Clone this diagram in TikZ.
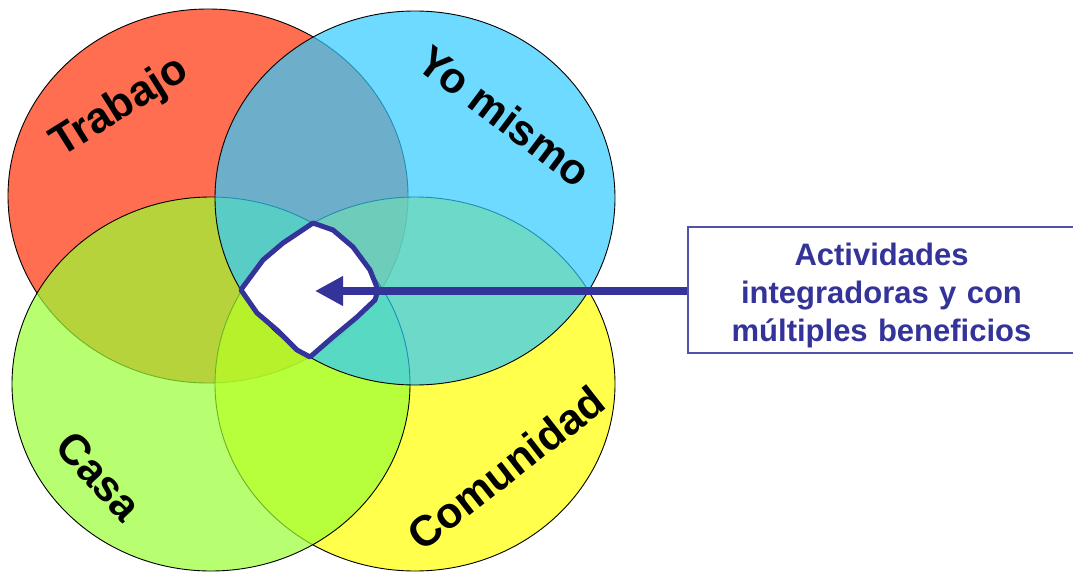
\documentclass[tikz,border=0pt]{standalone}
\usepackage{fontspec}
\setmainfont{Liberation Sans}
\usetikzlibrary{arrows.meta}

\definecolor{rojo}{RGB}{255,48,5}
\definecolor{azul}{RGB}{48,202,255}
\definecolor{verde}{RGB}{152,255,51}
\definecolor{amarillo}{RGB}{255,255,0}
\definecolor{indigo}{RGB}{51,51,153}

\tikzset{
  conjunto/.style={draw=black, line width=0.9pt, fill opacity=0.7},
  etiqueta/.style={font=\fontsize{43}{43}\selectfont\bfseries, inner sep=0pt},
  caja/.style={draw=indigo!85, line width=1.3pt, fill=white, text=indigo,
    font=\fontsize{31}{38}\selectfont\bfseries, align=center,
    text width=370pt, minimum width=387pt, minimum height=126pt},
  flecha/.style={indigo, line width=8.7pt, -{Triangle[length=28pt,width=28pt]}},
  borde/.style={draw=indigo, line width=5pt, line join=round, fill=white}
}

\begin{document}
\begin{tikzpicture}[x=1pt, y=-1pt]
    \useasboundingbox (0,0) rectangle (1073,572);

    % Centros de los conjuntos
    \coordinate (trabajo) at (208,196);
    \coordinate (yomismo) at (415,198);
    \coordinate (casa) at (211,384);
    \coordinate (comunidad) at (415,384);

    % Conjuntos
    \draw[conjunto, fill=rojo] (trabajo) ellipse [x radius=200pt, y radius=187pt];
    \draw[conjunto, fill=amarillo] (comunidad) ellipse [x radius=200pt, y radius=187pt];
    \draw[conjunto, fill=verde] (casa) ellipse [x radius=199pt, y radius=187pt];
    \draw[conjunto, fill=azul] (yomismo) ellipse [x radius=200pt, y radius=187pt];

    % Zona comun
    \draw[borde] (313,223) -- (333,230) -- (353,247) -- (370,270) -- (378,290)
      -- (375,300) -- (357,317) -- (333,337) -- (310,357) -- (297,350)
      -- (277,330) -- (257,313) -- (241,290) -- (243,287) -- (263,260)
      -- (283,243) -- cycle;

    % Nombres
    \node[etiqueta, rotate=32] (lbltrabajo) at (120,108) {Trabajo};
    \node[etiqueta, rotate=-37] (lblyomismo) at (505,116) {Yo mismo};
    \node[etiqueta, rotate=-47] (lblcasa) at (99,476) {Casa};
    \node[etiqueta, rotate=38] (lblcomunidad) at (506,468) {Comunidad};

    % Caja y flecha
    \node[caja] (caja) at (881.5,290) {\rule{0pt}{33pt}Actividades\\ integradoras y con\\ múltiples beneficios};
    \coordinate (punta) at (315,291);
    \draw[flecha] (caja.west |- punta) -- (punta);

\end{tikzpicture}
\end{document}
